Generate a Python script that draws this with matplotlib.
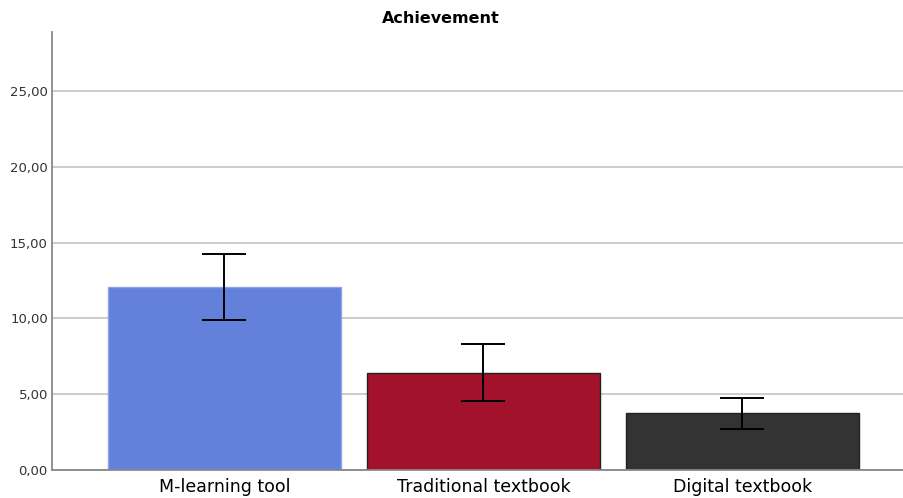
import matplotlib.pyplot as plt

groups = ['M-learning tool', 'Traditional textbook', 'Digital textbook']
means = [12.07, 6.40, 3.76]
err_low = [9.89, 4.55, 2.70]
err_high = [14.25, 8.31, 4.75]
bar_colors = ['#6380DA', '#A3122B', '#333333']
edge_colors = ['#8FA2E4', '#222222', '#222222']
yticks = [0, 5, 10, 15, 20, 25]

fig = plt.figure(figsize=(9.04, 4.98), dpi=100)
ax = fig.add_axes([0.0575, 0.0562, 0.9425, 0.8795])

x = list(range(len(groups)))
yerr = [[m - lo for m, lo in zip(means, err_low)],
        [hi - m for m, hi in zip(means, err_high)]]
ax.bar(x, means, width=0.9, color=bar_colors, edgecolor=edge_colors, linewidth=1, zorder=2)
ax.errorbar(x, means, yerr=yerr, fmt='none', ecolor='black', elinewidth=1.4,
            capsize=15.5, capthick=1.4, zorder=3)

ax.set_xlim(-0.666, 2.624)
ax.set_ylim(0, 28.9)
ax.set_yticks(yticks)
# komma jako separator dziesiętny
ax.set_yticklabels([('%.2f' % v).replace('.', ',') for v in yticks])
ax.yaxis.grid(True, color='#c8c8c8', linewidth=1.3, zorder=0)
ax.set_axisbelow(True)
ax.set_xticks(x)
ax.set_xticklabels(groups, fontsize=12.5)
ax.tick_params(axis='y', length=0, labelsize=9.5, pad=3, labelcolor='#333333')
ax.tick_params(axis='x', length=0, pad=6)
for s in ['top', 'right']:
    ax.spines[s].set_visible(False)
ax.spines['left'].set_color('#888888')
ax.spines['bottom'].set_color('#888888')
ax.spines['left'].set_linewidth(1.3)
ax.spines['bottom'].set_linewidth(1.3)

fig.text(0.488, 0.962, 'Achievement', ha='center', va='center', fontsize=11.5, fontweight='bold')

fig.savefig('out.png', dpi=100)
